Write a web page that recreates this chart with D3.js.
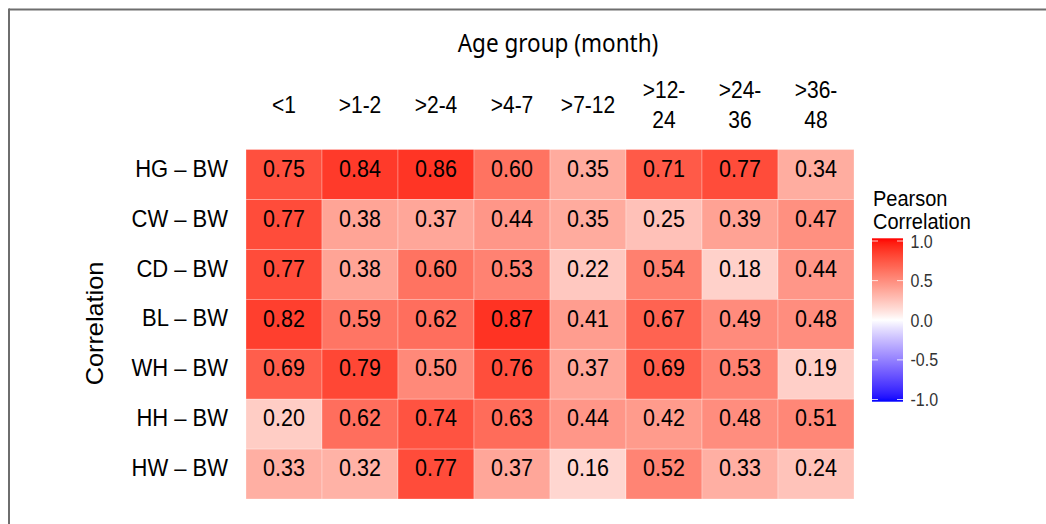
<!DOCTYPE html>
<html>
<head>
<meta charset="utf-8">
<script src="https://cdn.jsdelivr.net/npm/d3@7"></script>
<style>
  html, body { margin: 0; padding: 0; background: #fff; }
  svg { display: block; }
  text { font-family: "Liberation Sans", Arial, Helvetica, sans-serif; fill: #000; }
</style>
</head>
<body>
<svg id="chart" width="1046" height="524"></svg>
<script>
// Correlation pairs (rows) and age groups (columns)
const pairs = ["HG – BW", "CW – BW", "CD – BW", "BL – BW", "WH – BW", "HH – BW", "HW – BW"];
const ageGroups = ["<1", ">1-2", ">2-4", ">4-7", ">7-12", ">12-24", ">24-36", ">36-48"];
const ageLabels = [["<1"], [">1-2"], [">2-4"], [">4-7"], [">7-12"], [">12-", "24"], [">24-", "36"], [">36-", "48"]];

// Pearson correlation, one array per pair, ordered by age group
const hgBw = [0.75, 0.84, 0.86, 0.60, 0.35, 0.71, 0.77, 0.34];
const cwBw = [0.77, 0.38, 0.37, 0.44, 0.35, 0.25, 0.39, 0.47];
const cdBw = [0.77, 0.38, 0.60, 0.53, 0.22, 0.54, 0.18, 0.44];
const blBw = [0.82, 0.59, 0.62, 0.87, 0.41, 0.67, 0.49, 0.48];
const whBw = [0.69, 0.79, 0.50, 0.76, 0.37, 0.69, 0.53, 0.19];
const hhBw = [0.20, 0.62, 0.74, 0.63, 0.44, 0.42, 0.48, 0.51];
const hwBw = [0.33, 0.32, 0.77, 0.37, 0.16, 0.52, 0.33, 0.24];
const seriesValues = [hgBw, cwBw, cdBw, blBw, whBw, hhBw, hwBw];

const legendTicks = [1.0, 0.5, 0.0, -0.5, -1.0];

const cells = [];
pairs.forEach((p, i) => ageGroups.forEach((a, j) => cells.push({ pair: p, age: a, value: seriesValues[i][j] })));

const svg = d3.select("#chart");
const SY = 1.1; // vertical stretch applied to glyphs

// outer frame (top and left rules)
svg.append("line").attr("x1", 9).attr("x2", 1046).attr("y1", 9.5).attr("y2", 9.5)
  .attr("stroke", "#6e6e6e").attr("stroke-width", 2);
svg.append("line").attr("x1", 9).attr("x2", 9).attr("y1", 8.5).attr("y2", 524)
  .attr("stroke", "#6e6e6e").attr("stroke-width", 2);

const x = d3.scaleBand().domain(ageGroups).range([246, 854]).padding(0);
const y = d3.scaleBand().domain(pairs).range([149.5, 499]).padding(0);

// diverging blue - white - red fill: a blend of Lab and RGB ramps
const labHigh = d3.interpolateLab("#ffffff", "#ff0000");
const rgbHigh = d3.interpolateRgb("#ffffff", "#ff0000");
const labLow = d3.interpolateLab("#ffffff", "#0000ff");
const rgbLow = d3.interpolateRgb("#ffffff", "#0000ff");
const color = v => {
  const t = Math.pow(Math.min(1, Math.abs(v)), 0.92);
  return v >= 0
    ? d3.interpolateRgb(labHigh(t), rgbHigh(t))(0.5)
    : d3.interpolateRgb(labLow(t), rgbLow(t))(0.5);
};

// tiles
svg.append("g").selectAll("rect").data(cells).join("rect")
  .attr("x", d => x(d.age)).attr("y", d => y(d.pair))
  .attr("width", x.bandwidth()).attr("height", y.bandwidth())
  .attr("fill", d => color(d.value))
  .attr("stroke", "rgba(255,255,255,0.45)").attr("stroke-width", 0.6);

function stretchedText(g, tx, ty, str, size, anchor) {
  return g.append("text")
    .attr("transform", `translate(${tx},${ty}) scale(1,${SY})`)
    .attr("text-anchor", anchor || "middle")
    .style("font-size", size + "px")
    .text(str);
}

// cell values
const valG = svg.append("g");
cells.forEach(d => {
  stretchedText(valG, x(d.age) + x.bandwidth() / 2, y(d.pair) + y.bandwidth() / 2 + 2.3,
    d.value.toFixed(2), 21.5);
});

// row labels
const rowG = svg.append("g");
pairs.forEach(p => stretchedText(rowG, 228, y(p) + y.bandwidth() / 2 + 2.2, p, 22, "end"));

// column labels
const colG = svg.append("g");
ageGroups.forEach((a, j) => {
  const lines = ageLabels[j];
  const cx = x(a) + x.bandwidth() / 2;
  if (lines.length === 1) {
    stretchedText(colG, cx, 113.3, lines[0], 21);
  } else {
    stretchedText(colG, cx, 98.3, lines[0], 21);
    stretchedText(colG, cx, 127.7, lines[1], 21);
  }
});

// axis titles
svg.append("text")
  .attr("transform", `translate(558,51.7) scale(1,${SY})`)
  .attr("text-anchor", "middle")
  .style("font-family", "'Noto Sans', 'Open Sans', sans-serif")
  .style("font-size", "22.5px")
  .text("Age group (month)");

svg.append("text")
  .attr("transform", `translate(103.3,323.5) rotate(-90) scale(${SY},1)`)
  .attr("text-anchor", "middle")
  .style("font-size", "23px")
  .text("Correlation");

// colour bar legend
const lg = svg.append("g");
stretchedText(lg, 873, 205.5, "Pearson", 20, "start");
stretchedText(lg, 873, 229, "Correlation", 20, "start");

const ly = d3.scaleLinear().domain([-1, 1]).range([399.5, 241]);
const defs = svg.append("defs");
const grad = defs.append("linearGradient").attr("id", "pearsonGrad")
  .attr("x1", 0).attr("x2", 0).attr("y1", 1).attr("y2", 0);
d3.range(-1, 1.0001, 0.05).forEach(v => {
  grad.append("stop").attr("offset", (v + 1) / 2).attr("stop-color", color(v));
});
const barTop = 238.3, barBottom = 401.7;
lg.append("rect").attr("x", 872).attr("y", barTop).attr("width", 31)
  .attr("height", barBottom - barTop).attr("fill", "url(#pearsonGrad)");

legendTicks.forEach(t => {
  const ty = ly(t);
  lg.append("line").attr("x1", 872).attr("x2", 878).attr("y1", ty).attr("y2", ty)
    .attr("stroke", "#fff").attr("stroke-opacity", 0.8).attr("stroke-width", 1);
  lg.append("line").attr("x1", 897).attr("x2", 903).attr("y1", ty).attr("y2", ty)
    .attr("stroke", "#fff").attr("stroke-opacity", 0.8).attr("stroke-width", 1);
  stretchedText(lg, 910.5, ty + 6.5, t.toFixed(1), 16, "start").style("fill", "#333");
});
</script>
</body>
</html>
